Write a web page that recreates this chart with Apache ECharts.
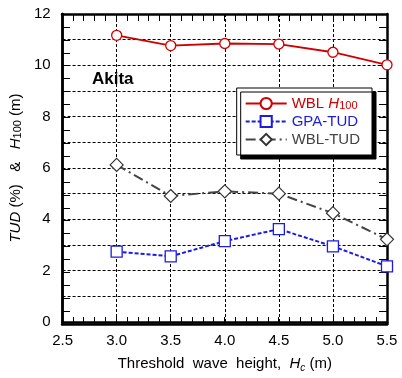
<!DOCTYPE html>
<html><head><meta charset="utf-8">
<script src="https://cdn.jsdelivr.net/npm/echarts@6/dist/echarts.min.js"></script>
<style>html,body{margin:0;padding:0;background:#fff}#c{width:402px;height:378px}</style>
</head><body><div id="c"></div>
<script>
var thresholds = [3.0, 3.5, 4.0, 4.5, 5.0, 5.5];
var wblH100 = [11.17, 10.77, 10.85, 10.83, 10.51, 10.02];
var gpaTUD = [2.74, 2.56, 3.15, 3.62, 2.95, 2.17];
var wblTUD = [6.12, 4.91, 5.09, 5.00, 4.24, 3.22];
var yTicks = [0, 2, 4, 6, 8, 10, 12];
var xTicks = [2.5, 3.0, 3.5, 4.0, 4.5, 5.0, 5.5];

function pairs(ys){ return thresholds.map(function(x,i){ return [x, ys[i]]; }); }
var FONT = 'Liberation Sans, Arial, sans-serif';
var RED = '#d00000', BLUE = '#1c1ce0', GRAY = '#444444';
var GRID = {left: 62, right: 15, top: 14, bottom: 54};
var lineStyleAxis = {color: '#000', width: 2.5};
function tickAxis(kind, gridIndex, position, min, max, interval, len){
  return {type: 'value', gridIndex: gridIndex, position: position, min: min, max: max, interval: interval,
    axisLine: {show: true, onZero: false, lineStyle: lineStyleAxis},
    axisTick: {show: true, inside: true, length: len, lineStyle: {color: '#000', width: 1}},
    axisLabel: {show: false}, splitLine: {show: false}};
}
var chart = echarts.init(document.getElementById('c'));
chart.setOption({
  animation: false,
  backgroundColor: '#fff',
  grid: [Object.assign({}, GRID), Object.assign({}, GRID)],
  graphic: [{type: 'text', left: 92, top: 71, style: {text: 'Akita', font: 'bold 17px ' + FONT, fill: '#000'}}],
  legend: {
    right: 30, top: 88, orient: 'vertical', itemWidth: 41, itemHeight: 14, itemGap: 3,
    padding: [8, 12, 8, 8],
    backgroundColor: '#fff', borderColor: '#000', borderWidth: 1,
    shadowColor: '#000', shadowBlur: 0, shadowOffsetX: 4, shadowOffsetY: 4,
    data: [
      {name: 'WBL H100', textStyle: {color: RED}},
      {name: 'GPA-TUD', textStyle: {color: BLUE}},
      {name: 'WBL-TUD', textStyle: {color: GRAY}}
    ],
    formatter: function(n){
      if (n === 'WBL H100') return 'WBL {i|H}{s|100}';
      return n;
    },
    textStyle: {fontFamily: FONT, fontSize: 15,
      rich: {i: {fontStyle: 'italic', fontSize: 15, fontFamily: FONT, color: RED},
             s: {fontSize: 11, fontFamily: FONT, color: RED, padding: [4,0,0,0]}}}
  },
  xAxis: [
    {type: 'value', gridIndex: 0, min: 2.5, max: 5.5, interval: 0.5, position: 'bottom',
      axisLine: {show: true, onZero: false, lineStyle: lineStyleAxis},
      axisTick: {show: false},
      axisLabel: {fontFamily: FONT, fontSize: 15, color: '#000', margin: 11,
        formatter: function(v){ return v.toFixed(1); }},
      splitLine: {show: true, lineStyle: {color: '#000', type: [3, 2], width: 1}},
      name: 'Threshold  wave  height,  {i|H}{s|c} (m)', nameLocation: 'middle', nameGap: 32,
      nameTextStyle: {fontFamily: FONT, fontSize: 15, color: '#000',
        rich: {i: {fontStyle: 'italic', fontSize: 15, fontFamily: FONT}, s: {fontStyle: 'italic', fontSize: 10, fontFamily: FONT, padding: [9,0,0,0]}}}
    },
    tickAxis('x', 1, 'bottom', 2.5, 5.5, 0.1, 7),
    tickAxis('x', 1, 'top', 2.5, 5.5, 0.1, 7)
  ],
  yAxis: [
    {type: 'value', gridIndex: 0, min: 0, max: 12, interval: 1, position: 'left',
      axisLine: {show: true, onZero: false, lineStyle: lineStyleAxis},
      axisTick: {show: false},
      axisLabel: {fontFamily: FONT, fontSize: 15, color: '#000', margin: 12,
        formatter: function(v){ return yTicks.indexOf(v) >= 0 ? String(v) : ''; }},
      splitLine: {show: true, lineStyle: {color: '#000', type: [3, 2], width: 1}},
      name: '{i|TUD} (%)   &   {i|H}{s|100} (m)', nameLocation: 'middle', nameGap: 38, nameRotate: 90,
      nameTextStyle: {fontFamily: FONT, fontSize: 15, color: '#000',
        rich: {i: {fontStyle: 'italic', fontSize: 15, fontFamily: FONT}, s: {fontSize: 11, fontFamily: FONT, padding: [4,0,0,0]}}}
    },
    tickAxis('y', 1, 'left', 0, 12, 0.5, 8),
    tickAxis('y', 1, 'right', 0, 12, 0.5, 8)
  ],
  series: [
    {name: 'WBL H100', type: 'line', xAxisIndex: 0, yAxisIndex: 0, data: pairs(wblH100), symbol: 'circle', symbolSize: 10,
     lineStyle: {color: RED, width: 1.8}, itemStyle: {color: '#fff', borderColor: RED, borderWidth: 1.3}, z: 5},
    {name: 'GPA-TUD', type: 'line', xAxisIndex: 0, yAxisIndex: 0, data: pairs(gpaTUD), symbol: 'rect', symbolSize: 11,
     lineStyle: {color: BLUE, width: 2, type: [4, 2]}, itemStyle: {color: '#fff', borderColor: BLUE, borderWidth: 1.3}, z: 5},
    {name: 'WBL-TUD', type: 'line', xAxisIndex: 0, yAxisIndex: 0, data: pairs(wblTUD), symbol: 'diamond', symbolSize: 13,
     lineStyle: {color: GRAY, width: 2, type: [10, 4, 2, 4]}, itemStyle: {color: '#fff', borderColor: '#333', borderWidth: 1.2}, z: 5}
  ]
});
</script></body></html>
